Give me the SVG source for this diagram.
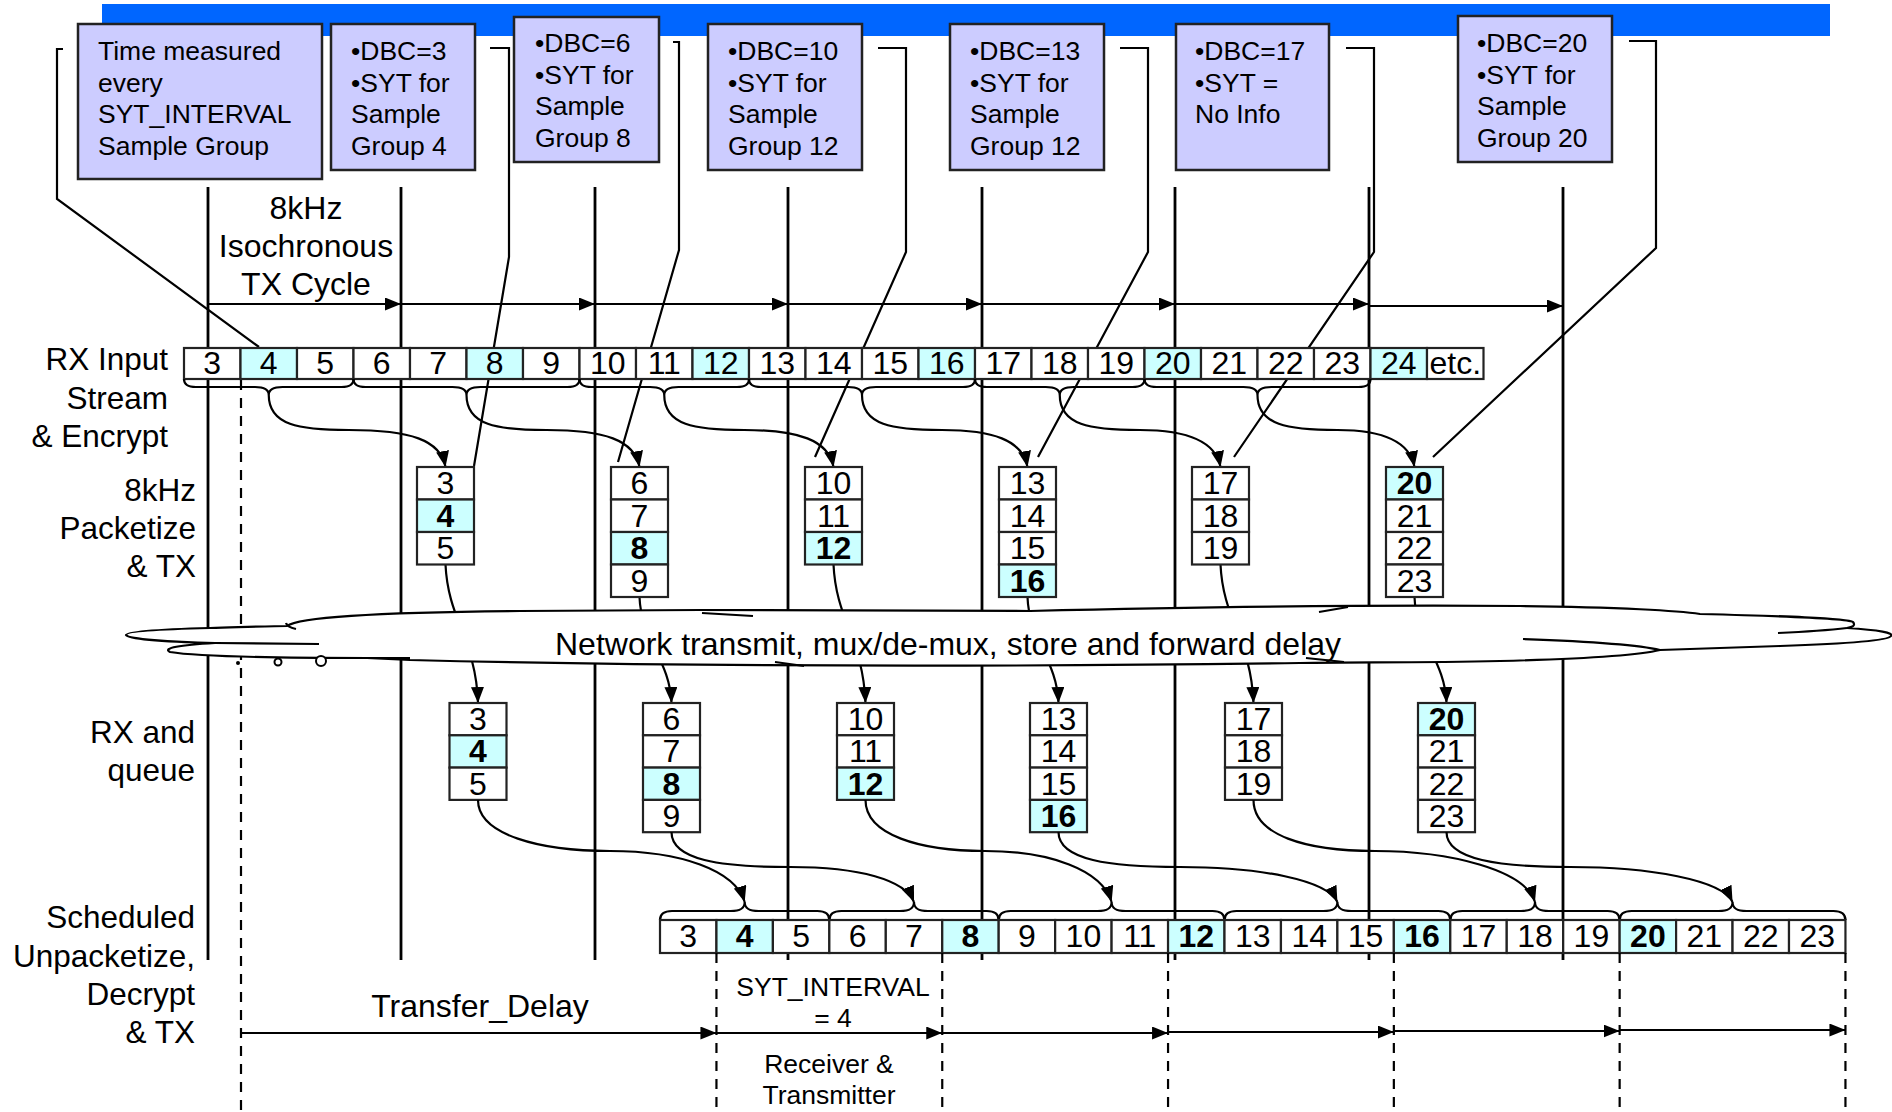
<svg xmlns="http://www.w3.org/2000/svg" width="1892" height="1112" viewBox="0 0 1892 1112">
<style>
text{font-family:"Liberation Sans",Arial,sans-serif;fill:#000}
.lbl{font-size:32px}
.lr{font-size:31.5px;text-anchor:end}
.bx{font-size:26.5px}
.num{font-size:32px;text-anchor:middle}
.b{font-weight:bold}
.tb{fill:#CCCCFF;stroke:#222;stroke-width:2.5}
.c{fill:#fff;stroke:#222;stroke-width:2.2}
.h{fill:#CCFFFF;stroke:#222;stroke-width:2.2}
.vl{stroke:#000;stroke-width:2.8;fill:none}
.ln{stroke:#000;stroke-width:2.2;fill:none}
.dl{stroke:#000;stroke-width:2.2;fill:none;stroke-dasharray:10 8}
.ar{stroke:#000;stroke-width:2.2;fill:none;marker-end:url(#ah)}
</style>
<defs>
<marker id="ah" viewBox="0 0 16 13" refX="16" refY="6.5" markerWidth="16" markerHeight="13" markerUnits="userSpaceOnUse" orient="auto">
<path d="M0,0 L16,6.5 L0,13 z" fill="#000"/>
</marker>
</defs>

<rect x="102" y="4" width="1728" height="32" fill="#0066FF"/>

<g id="timeline">
<path class="vl" d="M208 187V960M401 187V960M595 187V960M788 187V960M982 187V960M1175 187V960M1369 187V960M1563 187V960"/>
<path class="dl" d="M241 380V1112"/>
<path class="ar" d="M208 304H401"/>
<path class="ar" d="M401 304H595"/>
<path class="ar" d="M595 304H788"/>
<path class="ar" d="M788 304H982"/>
<path class="ar" d="M982 304H1175"/>
<path class="ar" d="M1175 304H1369"/>
<path class="ar" d="M1369 306H1563"/>
</g>

<g id="connectors">
<path class="ln" d="M63 49H57V199L259 347"/>
<path class="ln" d="M490 48H509V257L474 466"/>
<path class="ln" d="M673 42H679V250L618 462"/>
<path class="ln" d="M878 48H906V252L815 457"/>
<path class="ln" d="M1120 48H1148V252L1038 457"/>
<path class="ln" d="M1346 48H1374V252L1234 457"/>
<path class="ln" d="M1629 41H1656V248L1433 457"/>
<path class="ar" d="M445.5 564.5C448 620 476 640 478 703"/>
<path class="ar" d="M639.5 597C641 640 670 660 671.5 703"/>
<path class="ar" d="M833.5 564.5C836 620 863 640 865.5 703"/>
<path class="ar" d="M1027.5 597C1029 640 1057 660 1058.5 703"/>
<path class="ar" d="M1220.5 564.5C1223 620 1251 640 1253.5 703"/>
<path class="ar" d="M1414.5 597C1416 640 1445 660 1446.5 703"/>
</g>

<g id="cloud">
<path fill="#fff" stroke="#000" stroke-width="2.2" d="M287 626C300 616 400 612 520 611L700 610L1030 611C1200 607 1400 605 1520 606C1620 607 1680 611 1700 614C1780 616 1848 618 1853 622C1856 626 1852 627 1847 628C1880 630 1894 633 1891 636C1888 641 1840 644 1780 646L1660 650C1640 655 1580 659 1500 661C1420 663 1360 662 1300 663C1000 667 700 667 410 660L367 658C280 658 200 657 170 652C162 648 180 645 215 643C170 642 128 639 126 635C126 631 170 629 210 628C245 627 270 626 287 626Z"/>
<path class="ln" d="M286 623Q287 627 296 629M215 643L319 644M367 658L410 658M1847 628C1830 630 1800 632 1778 633M1660 650C1640 645 1580 641 1523 639M702 613L753 616M1319 612L1348 607M775 662L804 666M1306 658L1344 662"/>
<circle cx="238" cy="663" r="2" fill="#000"/>
<circle cx="278" cy="662" r="3.5" fill="#fff" stroke="#000" stroke-width="2"/>
<circle cx="321" cy="661" r="5" fill="#fff" stroke="#000" stroke-width="2"/>
<text class="lbl" x="948" y="655" text-anchor="middle">Network transmit, mux/de-mux, store and forward delay</text>
</g>

<g id="rx-input">
<rect class="c" x="184" y="348" width="56.5" height="31"/><text class="num" x="212.25" y="374">3</text>
<rect class="h" x="240.5" y="348" width="56.5" height="31"/><text class="num" x="268.75" y="374">4</text>
<rect class="c" x="297" y="348" width="56.5" height="31"/><text class="num" x="325.25" y="374">5</text>
<rect class="c" x="353.5" y="348" width="56.5" height="31"/><text class="num" x="381.75" y="374">6</text>
<rect class="c" x="410" y="348" width="56.5" height="31"/><text class="num" x="438.25" y="374">7</text>
<rect class="h" x="466.5" y="348" width="56.5" height="31"/><text class="num" x="494.75" y="374">8</text>
<rect class="c" x="523" y="348" width="56.5" height="31"/><text class="num" x="551.25" y="374">9</text>
<rect class="c" x="579.5" y="348" width="56.5" height="31"/><text class="num" x="607.75" y="374">10</text>
<rect class="c" x="636" y="348" width="56.5" height="31"/><text class="num" x="664.25" y="374">11</text>
<rect class="h" x="692.5" y="348" width="56.5" height="31"/><text class="num" x="720.75" y="374">12</text>
<rect class="c" x="749" y="348" width="56.5" height="31"/><text class="num" x="777.25" y="374">13</text>
<rect class="c" x="805.5" y="348" width="56.5" height="31"/><text class="num" x="833.75" y="374">14</text>
<rect class="c" x="862" y="348" width="56.5" height="31"/><text class="num" x="890.25" y="374">15</text>
<rect class="h" x="918.5" y="348" width="56.5" height="31"/><text class="num" x="946.75" y="374">16</text>
<rect class="c" x="975" y="348" width="56.5" height="31"/><text class="num" x="1003.25" y="374">17</text>
<rect class="c" x="1031.5" y="348" width="56.5" height="31"/><text class="num" x="1059.75" y="374">18</text>
<rect class="c" x="1088" y="348" width="56.5" height="31"/><text class="num" x="1116.25" y="374">19</text>
<rect class="h" x="1144.5" y="348" width="56.5" height="31"/><text class="num" x="1172.75" y="374">20</text>
<rect class="c" x="1201" y="348" width="56.5" height="31"/><text class="num" x="1229.25" y="374">21</text>
<rect class="c" x="1257.5" y="348" width="56.5" height="31"/><text class="num" x="1285.75" y="374">22</text>
<rect class="c" x="1314" y="348" width="56.5" height="31"/><text class="num" x="1342.25" y="374">23</text>
<rect class="h" x="1370.5" y="348" width="56.5" height="31"/><text class="num" x="1398.75" y="374">24</text>
<rect class="c" x="1427" y="348" width="56.5" height="31"/><text class="num" x="1455.25" y="374">etc.</text>
</g>

<g id="rx-braces">
<path class="ln" d="M184 379C184 385 188 387 196 387L255 387C264 387 268.75 389 268.75 395C268.75 389 273.5 387 282.5 387L341.5 387C349.5 387 353.5 385 353.5 379"/>
<path class="ln" d="M353.5 379C353.5 385 357.5 387 365.5 387L452.5 387C461.5 387 466.5 389 466.5 395C466.5 389 471.5 387 480.5 387L567.5 387C575.5 387 579.5 385 579.5 379"/>
<path class="ln" d="M579.5 379C579.5 385 583.5 387 591.5 387L650 387C659 387 664.25 389 664.25 395C664.25 389 669.5 387 678.5 387L737 387C745 387 749 385 749 379"/>
<path class="ln" d="M749 379C749 385 753 387 761 387L848 387C857 387 862 389 862 395C862 389 867 387 876 387L963 387C971 387 975 385 975 379"/>
<path class="ln" d="M975 379C975 385 979 387 987 387L1045.75 387C1054.75 387 1059.75 389 1059.75 395C1059.75 389 1064.75 387 1073.75 387L1132.5 387C1140.5 387 1144.5 385 1144.5 379"/>
<path class="ln" d="M1144.5 379C1144.5 385 1148.5 387 1156.5 387L1243.5 387C1252.5 387 1257.5 389 1257.5 395C1257.5 389 1262.5 387 1271.5 387L1358.5 387C1366.5 387 1370.5 385 1370.5 379"/>
<path class="ar" d="M268.75 395C268.75 425 298.75 430 348.75 430C410.5 430 440.5 440 445.5 467"/>
<path class="ar" d="M466.5 395C466.5 425 496.5 430 546.5 430C604.5 430 634.5 440 639.5 467"/>
<path class="ar" d="M664.25 395C664.25 425 694.25 430 744.25 430C798.5 430 828.5 440 833.5 467"/>
<path class="ar" d="M862 395C862 425 892 430 942 430C992.5 430 1022.5 440 1027.5 467"/>
<path class="ar" d="M1059.75 395C1059.75 425 1089.75 430 1139.75 430C1185.5 430 1215.5 440 1220.5 467"/>
<path class="ar" d="M1257.5 395C1257.5 425 1287.5 430 1337.5 430C1379.5 430 1409.5 440 1414.5 467"/>
</g>

<g id="packet-1">
<rect class="c" x="417" y="467" width="57" height="32.5"/><text class="num" x="445.5" y="494">3</text>
<rect class="h" x="417" y="499.5" width="57" height="32.5"/><text class="num b" x="445.5" y="526.5">4</text>
<rect class="c" x="417" y="532" width="57" height="32.5"/><text class="num" x="445.5" y="559">5</text>
</g>
<g id="packet-2">
<rect class="c" x="611" y="467" width="57" height="32.5"/><text class="num" x="639.5" y="494">6</text>
<rect class="c" x="611" y="499.5" width="57" height="32.5"/><text class="num" x="639.5" y="526.5">7</text>
<rect class="h" x="611" y="532" width="57" height="32.5"/><text class="num b" x="639.5" y="559">8</text>
<rect class="c" x="611" y="564.5" width="57" height="32.5"/><text class="num" x="639.5" y="591.5">9</text>
</g>
<g id="packet-3">
<rect class="c" x="805" y="467" width="57" height="32.5"/><text class="num" x="833.5" y="494">10</text>
<rect class="c" x="805" y="499.5" width="57" height="32.5"/><text class="num" x="833.5" y="526.5">11</text>
<rect class="h" x="805" y="532" width="57" height="32.5"/><text class="num b" x="833.5" y="559">12</text>
</g>
<g id="packet-4">
<rect class="c" x="999" y="467" width="57" height="32.5"/><text class="num" x="1027.5" y="494">13</text>
<rect class="c" x="999" y="499.5" width="57" height="32.5"/><text class="num" x="1027.5" y="526.5">14</text>
<rect class="c" x="999" y="532" width="57" height="32.5"/><text class="num" x="1027.5" y="559">15</text>
<rect class="h" x="999" y="564.5" width="57" height="32.5"/><text class="num b" x="1027.5" y="591.5">16</text>
</g>
<g id="packet-5">
<rect class="c" x="1192" y="467" width="57" height="32.5"/><text class="num" x="1220.5" y="494">17</text>
<rect class="c" x="1192" y="499.5" width="57" height="32.5"/><text class="num" x="1220.5" y="526.5">18</text>
<rect class="c" x="1192" y="532" width="57" height="32.5"/><text class="num" x="1220.5" y="559">19</text>
</g>
<g id="packet-6">
<rect class="h" x="1386" y="467" width="57" height="32.5"/><text class="num b" x="1414.5" y="494">20</text>
<rect class="c" x="1386" y="499.5" width="57" height="32.5"/><text class="num" x="1414.5" y="526.5">21</text>
<rect class="c" x="1386" y="532" width="57" height="32.5"/><text class="num" x="1414.5" y="559">22</text>
<rect class="c" x="1386" y="564.5" width="57" height="32.5"/><text class="num" x="1414.5" y="591.5">23</text>
</g>

<g id="queue-1">
<rect class="c" x="449.5" y="703" width="57" height="32.3"/><text class="num" x="478" y="730">3</text>
<rect class="h" x="449.5" y="735.3" width="57" height="32.3"/><text class="num b" x="478" y="762.3">4</text>
<rect class="c" x="449.5" y="767.6" width="57" height="32.3"/><text class="num" x="478" y="794.6">5</text>
</g>
<g id="queue-2">
<rect class="c" x="643" y="703" width="57" height="32.3"/><text class="num" x="671.5" y="730">6</text>
<rect class="c" x="643" y="735.3" width="57" height="32.3"/><text class="num" x="671.5" y="762.3">7</text>
<rect class="h" x="643" y="767.6" width="57" height="32.3"/><text class="num b" x="671.5" y="794.6">8</text>
<rect class="c" x="643" y="799.9" width="57" height="32.3"/><text class="num" x="671.5" y="826.9">9</text>
</g>
<g id="queue-3">
<rect class="c" x="837" y="703" width="57" height="32.3"/><text class="num" x="865.5" y="730">10</text>
<rect class="c" x="837" y="735.3" width="57" height="32.3"/><text class="num" x="865.5" y="762.3">11</text>
<rect class="h" x="837" y="767.6" width="57" height="32.3"/><text class="num b" x="865.5" y="794.6">12</text>
</g>
<g id="queue-4">
<rect class="c" x="1030" y="703" width="57" height="32.3"/><text class="num" x="1058.5" y="730">13</text>
<rect class="c" x="1030" y="735.3" width="57" height="32.3"/><text class="num" x="1058.5" y="762.3">14</text>
<rect class="c" x="1030" y="767.6" width="57" height="32.3"/><text class="num" x="1058.5" y="794.6">15</text>
<rect class="h" x="1030" y="799.9" width="57" height="32.3"/><text class="num b" x="1058.5" y="826.9">16</text>
</g>
<g id="queue-5">
<rect class="c" x="1225" y="703" width="57" height="32.3"/><text class="num" x="1253.5" y="730">17</text>
<rect class="c" x="1225" y="735.3" width="57" height="32.3"/><text class="num" x="1253.5" y="762.3">18</text>
<rect class="c" x="1225" y="767.6" width="57" height="32.3"/><text class="num" x="1253.5" y="794.6">19</text>
</g>
<g id="queue-6">
<rect class="h" x="1418" y="703" width="57" height="32.3"/><text class="num b" x="1446.5" y="730">20</text>
<rect class="c" x="1418" y="735.3" width="57" height="32.3"/><text class="num" x="1446.5" y="762.3">21</text>
<rect class="c" x="1418" y="767.6" width="57" height="32.3"/><text class="num" x="1446.5" y="794.6">22</text>
<rect class="c" x="1418" y="799.9" width="57" height="32.3"/><text class="num" x="1446.5" y="826.9">23</text>
</g>

<g id="out-arrows">
<path class="ar" d="M478 800C478 835 540 851 610 851C680 851 735 870 744.7 902"/>
<path class="ar" d="M671.5 832C671.5 860 720 867 790 867C860 867 905 880 914 902"/>
<path class="ar" d="M865.5 800C865.5 835 920 851 985 851C1050 851 1102 870 1111.6 902"/>
<path class="ar" d="M1058.5 832C1058.5 860 1110 867 1180 867C1260 867 1327 880 1337.4 902"/>
<path class="ar" d="M1253.5 800C1253.5 835 1305 851 1375 851C1450 851 1525 870 1535 902"/>
<path class="ar" d="M1446.5 832C1446.5 860 1500 867 1570 867C1650 867 1722 880 1732.55 902"/>
<path class="ln" d="M660 920C660 914 664 911 672 911L730.7 911C739.7 911 744.7 909 744.7 902C744.7 909 749.7 911 758.7 911L817.35 911C825.35 911 829.35 914 829.35 920"/>
<path class="ln" d="M829.35 920C829.35 914 833.35 911 841.35 911L900 911C909 911 914 909 914 902C914 909 919 911 928 911L986.7 911C994.7 911 998.7 914 998.7 920"/>
<path class="ln" d="M998.7 920C998.7 914 1002.7 911 1010.7 911L1097.6 911C1106.6 911 1111.6 909 1111.6 902C1111.6 909 1116.6 911 1125.6 911L1212.5 911C1220.5 911 1224.5 914 1224.5 920"/>
<path class="ln" d="M1224.5 920C1224.5 914 1228.5 911 1236.5 911L1323.4 911C1332.4 911 1337.4 909 1337.4 902C1337.4 909 1342.4 911 1351.4 911L1438.3 911C1446.3 911 1450.3 914 1450.3 920"/>
<path class="ln" d="M1450.3 920C1450.3 914 1454.3 911 1462.3 911L1521 911C1530 911 1535 909 1535 902C1535 909 1540 911 1549 911L1607.65 911C1615.65 911 1619.65 914 1619.65 920"/>
<path class="ln" d="M1619.65 920C1619.65 914 1623.65 911 1631.65 911L1718.55 911C1727.55 911 1732.55 909 1732.55 902C1732.55 909 1737.55 911 1746.55 911L1833.45 911C1841.45 911 1845.45 914 1845.45 920"/>
</g>

<g id="output-stream">
<rect class="c" x="660" y="920" width="56.45" height="33"/><text class="num" x="688.2" y="947">3</text>
<rect class="h" x="716.45" y="920" width="56.45" height="33"/><text class="num b" x="744.7" y="947">4</text>
<rect class="c" x="772.9" y="920" width="56.45" height="33"/><text class="num" x="801.1" y="947">5</text>
<rect class="c" x="829.35" y="920" width="56.45" height="33"/><text class="num" x="857.6" y="947">6</text>
<rect class="c" x="885.8" y="920" width="56.45" height="33"/><text class="num" x="914" y="947">7</text>
<rect class="h" x="942.25" y="920" width="56.45" height="33"/><text class="num b" x="970.5" y="947">8</text>
<rect class="c" x="998.7" y="920" width="56.45" height="33"/><text class="num" x="1026.9" y="947">9</text>
<rect class="c" x="1055.15" y="920" width="56.45" height="33"/><text class="num" x="1083.4" y="947">10</text>
<rect class="c" x="1111.6" y="920" width="56.45" height="33"/><text class="num" x="1139.8" y="947">11</text>
<rect class="h" x="1168.05" y="920" width="56.45" height="33"/><text class="num b" x="1196.3" y="947">12</text>
<rect class="c" x="1224.5" y="920" width="56.45" height="33"/><text class="num" x="1252.7" y="947">13</text>
<rect class="c" x="1280.95" y="920" width="56.45" height="33"/><text class="num" x="1309.2" y="947">14</text>
<rect class="c" x="1337.4" y="920" width="56.45" height="33"/><text class="num" x="1365.6" y="947">15</text>
<rect class="h" x="1393.85" y="920" width="56.45" height="33"/><text class="num b" x="1422.1" y="947">16</text>
<rect class="c" x="1450.3" y="920" width="56.45" height="33"/><text class="num" x="1478.5" y="947">17</text>
<rect class="c" x="1506.75" y="920" width="56.45" height="33"/><text class="num" x="1535" y="947">18</text>
<rect class="c" x="1563.2" y="920" width="56.45" height="33"/><text class="num" x="1591.4" y="947">19</text>
<rect class="h" x="1619.65" y="920" width="56.45" height="33"/><text class="num b" x="1647.9" y="947">20</text>
<rect class="c" x="1676.1" y="920" width="56.45" height="33"/><text class="num" x="1704.3" y="947">21</text>
<rect class="c" x="1732.55" y="920" width="56.45" height="33"/><text class="num" x="1760.8" y="947">22</text>
<rect class="c" x="1789" y="920" width="56.45" height="33"/><text class="num" x="1817.2" y="947">23</text>
</g>

<g id="intervals">
<path class="dl" d="M716.45 953V1112M942.25 953V1112M1168.05 953V1112M1393.85 953V1112M1619.65 953V1112M1845.45 953V1112"/>
<path class="ar" d="M241 1033H716.45"/>
<path class="ar" d="M716.45 1033H942.25"/>
<path class="ar" d="M942.25 1033H1168.05"/>
<path class="ar" d="M1168.05 1032H1393.85"/>
<path class="ar" d="M1393.85 1031H1619.65"/>
<path class="ar" d="M1619.65 1030H1845.45"/>
<text class="lbl" x="480" y="1017" text-anchor="middle">Transfer_Delay</text>
<text class="bx" text-anchor="middle"><tspan x="833" y="996">SYT_INTERVAL</tspan><tspan x="833" y="1027">= 4</tspan></text>
<text class="bx" text-anchor="middle"><tspan x="829" y="1073">Receiver &amp;</tspan><tspan x="829" y="1104">Transmitter</tspan></text>
</g>

<g id="labels">
<text class="lbl" text-anchor="middle"><tspan x="306" y="219">8kHz</tspan><tspan x="306" y="257">Isochronous</tspan><tspan x="306" y="295">TX Cycle</tspan></text>
<text class="lr"><tspan x="168" y="370">RX Input</tspan><tspan x="168" y="409">Stream</tspan><tspan x="168" y="447">&amp; Encrypt</tspan></text>
<text class="lr"><tspan x="196" y="501">8kHz</tspan><tspan x="196" y="539">Packetize</tspan><tspan x="196" y="577">&amp; TX</tspan></text>
<text class="lr"><tspan x="195" y="743">RX and</tspan><tspan x="195" y="781">queue</tspan></text>
<text class="lr"><tspan x="195" y="928">Scheduled</tspan><tspan x="195" y="967">Unpacketize,</tspan><tspan x="195" y="1005">Decrypt</tspan><tspan x="195" y="1043">&amp; TX</tspan></text>
</g>

<g id="note-1"><rect class="tb" x="78" y="24" width="244" height="155"/>
<text class="bx"><tspan x="98" y="60">Time measured</tspan><tspan x="98" y="92">every</tspan><tspan x="98" y="123">SYT_INTERVAL</tspan><tspan x="98" y="155">Sample Group</tspan></text></g>
<g id="note-2"><rect class="tb" x="331" y="24" width="144" height="146"/>
<text class="bx"><tspan x="351" y="60">•DBC=3</tspan><tspan x="351" y="92">•SYT for</tspan><tspan x="351" y="123">Sample</tspan><tspan x="351" y="155">Group 4</tspan></text></g>
<g id="note-3"><rect class="tb" x="514" y="17" width="145" height="145"/>
<text class="bx"><tspan x="535" y="52">•DBC=6</tspan><tspan x="535" y="84">•SYT for</tspan><tspan x="535" y="115">Sample</tspan><tspan x="535" y="147">Group 8</tspan></text></g>
<g id="note-4"><rect class="tb" x="708" y="24" width="154" height="146"/>
<text class="bx"><tspan x="728" y="60">•DBC=10</tspan><tspan x="728" y="92">•SYT for</tspan><tspan x="728" y="123">Sample</tspan><tspan x="728" y="155">Group 12</tspan></text></g>
<g id="note-5"><rect class="tb" x="950" y="24" width="154" height="146"/>
<text class="bx"><tspan x="970" y="60">•DBC=13</tspan><tspan x="970" y="92">•SYT for</tspan><tspan x="970" y="123">Sample</tspan><tspan x="970" y="155">Group 12</tspan></text></g>
<g id="note-6"><rect class="tb" x="1176" y="24" width="153" height="146"/>
<text class="bx"><tspan x="1195" y="60">•DBC=17</tspan><tspan x="1195" y="92">•SYT =</tspan><tspan x="1195" y="123">No Info</tspan></text></g>
<g id="note-7"><rect class="tb" x="1458" y="16" width="154" height="146"/>
<text class="bx"><tspan x="1477" y="52">•DBC=20</tspan><tspan x="1477" y="84">•SYT for</tspan><tspan x="1477" y="115">Sample</tspan><tspan x="1477" y="147">Group 20</tspan></text></g>
</svg>
